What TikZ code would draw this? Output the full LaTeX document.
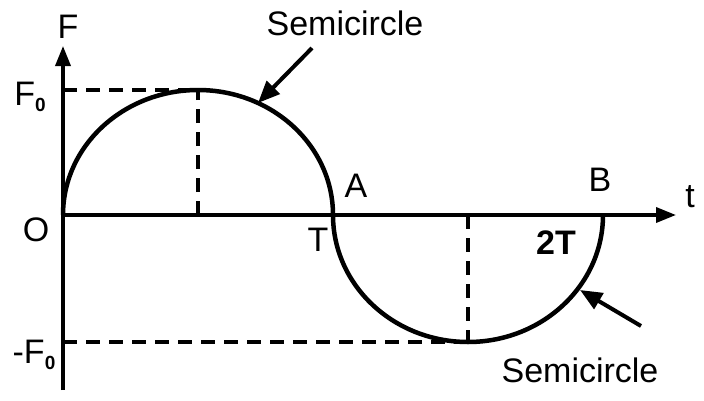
\documentclass[tikz,border=0pt]{standalone}
\usepackage{fontspec}
\setmainfont{Liberation Sans}
\usetikzlibrary{arrows.meta}
\begin{document}
\begin{tikzpicture}[x=1pt,y=1pt,
  lbl/.style={font=\fontsize{34}{34}\selectfont, inner sep=0pt},
  curve/.style={line width=4.5pt},
  axis/.style={line width=3.5pt, -{Triangle[length=20pt,width=15pt]}},
  guide/.style={line width=3.5pt, dash pattern=on 14pt off 9pt},
  pointer/.style={line width=4pt, -{Triangle[length=22pt,width=18pt]}}]
\useasboundingbox (0,0) rectangle (704,400);
\def\sub#1{\raisebox{-0.35ex}{\fontsize{19}{19}\selectfont\bfseries #1}}
% key points
\coordinate (O) at (63,185);
\coordinate (peak) at (198,310);
\coordinate (trough) at (468,58);
\coordinate (peakfoot) at (198,185);
\coordinate (troughfoot) at (468,185);
\coordinate (yaxbot) at (63,10);
\coordinate (yaxtop) at (63,354);
\coordinate (xaxend) at (676,185);
\coordinate (F0lev) at (63,310);
\coordinate (mF0lev) at (63,58);
\coordinate (toptip) at (258,297);
\coordinate (toptail) at (312,352);
\coordinate (bottip) at (580,110);
\coordinate (bottail) at (641,74);
% axes
\draw[axis] (yaxbot) -- (yaxtop);
\draw[axis] (O) -- (xaxend);
% guides
\draw[guide] (F0lev) -- (peak);
\draw[guide] (peakfoot) -- (peak);
\draw[guide] (mF0lev) -- (trough);
\draw[guide] (troughfoot) -- (trough);
% curve
\draw[curve] (O) arc[start angle=180, end angle=0, x radius=135, y radius=125]
  arc[start angle=180, end angle=360, x radius=135, y radius=127];
% labels
\node[lbl] (lF) at (68,373) {F};
\node[lbl] (lF0) at (30,303) {F\sub{0}};
\node[lbl] (lmF0) at (34,45) {-F\sub{0}};
\node[lbl] (lO) at (36,170) {O};
\node[lbl] (lA) at (356,214) {A};
\node[lbl] (lT) at (318,160) {T};
\node[lbl] (lB) at (600,220) {B};
\node[lbl] (lt) at (690,203) {t};
\node[lbl] (l2T) at (556,157) {\bfseries 2T};
\node[lbl] (ls1) at (345,377) {Semicircle};
\node[lbl] (ls2) at (580,30) {Semicircle};
% pointers
\draw[pointer] (toptail) -- (toptip);
\draw[pointer] (bottail) -- (bottip);
\end{tikzpicture}
\end{document}
